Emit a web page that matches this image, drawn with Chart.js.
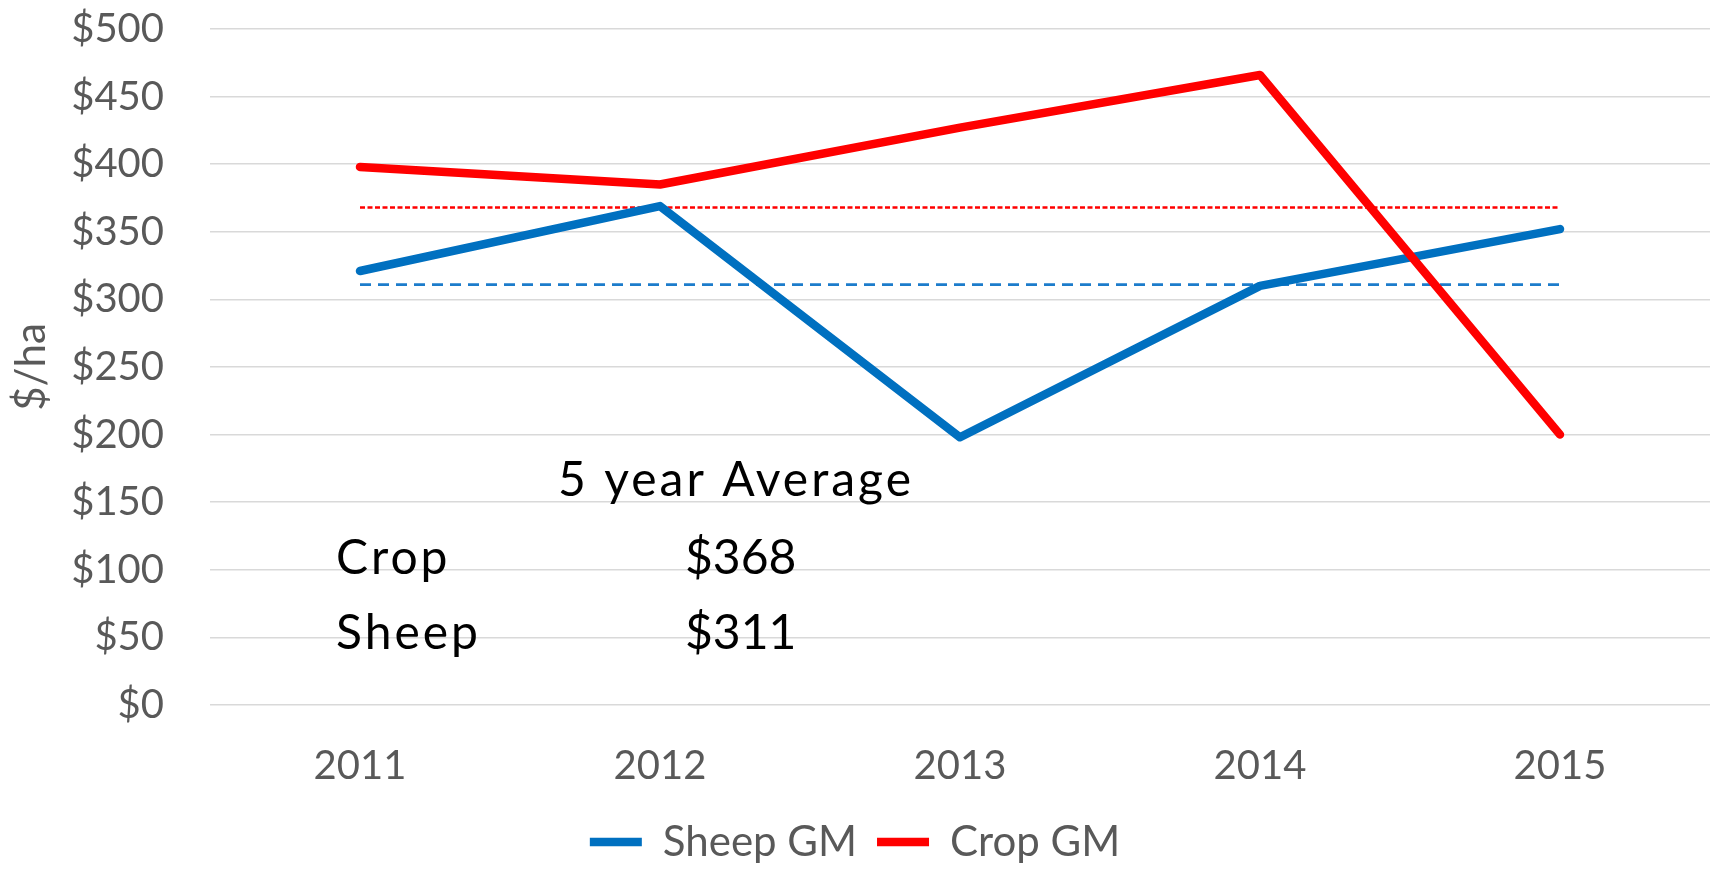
<!DOCTYPE html>
<html>
<head>
<meta charset="utf-8">
<script src="https://cdn.jsdelivr.net/npm/chart.js@4.4.0/dist/chart.umd.min.js"></script>
<style>
  html, body { margin: 0; padding: 0; background: #ffffff; }
  #wrap { width: 1715px; height: 873px; position: relative; }
</style>
</head>
<body>
<div id="wrap"><canvas id="c" width="1715" height="873"></canvas></div>
<script>
const years = ['2011', '2012', '2013', '2014', '2015'];
const sheepGM = [321, 369, 198, 310, 352];
const cropGM = [398, 385, 427, 466, 200];
const sheepAvgLine = [311, 311, 311, 311, 311];
const cropAvgLine = [368, 368, 368, 368, 368];
const yTicks = [0, 50, 100, 150, 200, 250, 300, 350, 400, 450, 500];
const avgTitle = '5 year Average';
const avgRows = [['Crop', '$368'], ['Sheep', '$311']];

const tickFont = { family: 'Lato', size: 40 };
const gray = '#595959';

const annotationPlugin = {
  id: 'avgText',
  afterDraw(chart) {
    const ctx = chart.ctx;
    const area = chart.chartArea;
    ctx.save();
    ctx.fillStyle = '#000000';
    ctx.font = '48px Lato';
    ctx.textBaseline = 'middle';
    ctx.textAlign = 'left';
    ctx.letterSpacing = '3px';
    ctx.fillText(avgTitle, area.left + 348, 481);
    ctx.fillText(avgRows[0][0], area.left + 126, 559);
    ctx.fillText(avgRows[1][0], area.left + 126, 634);
    ctx.letterSpacing = '0px';
    ctx.fillText(avgRows[0][1], area.left + 475, 559);
    ctx.fillText(avgRows[1][1], area.left + 475, 634);
    ctx.restore();
  }
};

new Chart(document.getElementById('c'), {
  type: 'line',
  data: {
    labels: years,
    datasets: [
      { label: 'Sheep GM', data: sheepGM, borderColor: '#0070C0', backgroundColor: '#0070C0',
        borderWidth: 8.5, pointRadius: 0, tension: 0, borderCapStyle: 'round', borderJoinStyle: 'round', order: 2 },
      { label: 'Crop GM', data: cropGM, borderColor: '#FF0000', backgroundColor: '#FF0000',
        borderWidth: 8.5, pointRadius: 0, tension: 0, borderCapStyle: 'round', borderJoinStyle: 'round', order: 1 },
      { label: 'Sheep avg', data: sheepAvgLine, borderColor: '#1C7CCB', borderWidth: 2.8,
        borderDash: [11, 7], pointRadius: 0, tension: 0, order: 3 },
      { label: 'Crop avg', data: cropAvgLine, borderColor: '#FF0000', borderWidth: 2.6,
        borderDash: [5, 2.5], pointRadius: 0, tension: 0, order: 4 }
    ]
  },
  options: {
    responsive: false,
    animation: false,
    layout: { padding: { top: 0, right: 5, left: 0, bottom: 0 } },
    plugins: {
      tooltip: { enabled: false },
      legend: {
        position: 'bottom',
        labels: {
          filter: (item) => item.datasetIndex < 2,
          sort: (a, b) => a.datasetIndex - b.datasetIndex,
          usePointStyle: true,
          pointStyle: 'line',
          pointStyleWidth: 52,
          boxHeight: 40,
          color: gray,
          font: { family: 'Lato', size: 42 },
          padding: 20
        }
      }
    },
    scales: {
      x: {
        offset: true,
        grid: { display: false, drawTicks: false },
        border: { display: false },
        ticks: { color: gray, font: tickFont, padding: 37 },
        afterFit: (s) => { s.height = 96; }
      },
      y: {
        min: 0, max: 500,
        afterBuildTicks: (s) => { s.ticks = yTicks.map(v => ({ value: v })); },
        grid: { color: '#D9D9D9', lineWidth: 1.5, drawTicks: false },
        border: { display: false },
        ticks: { color: gray, font: tickFont, padding: 46, callback: (v) => '$' + v },
        title: { display: true, text: '$/ha', color: gray, font: { family: 'Lato', size: 42 }, padding: { top: 6, bottom: 0 } },
        afterFit: (s) => { s.width = 210; s.paddingTop = 29; s.paddingBottom = 0; }
      }
    }
  },
  plugins: [annotationPlugin]
});
</script>
</body>
</html>
